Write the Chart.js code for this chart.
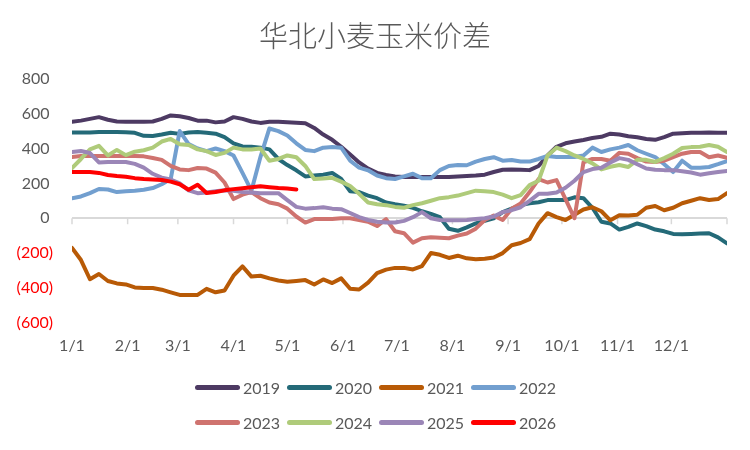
<!DOCTYPE html>
<html>
<head>
<meta charset="utf-8">
<script src="https://cdn.jsdelivr.net/npm/chart.js@4.4.1/dist/chart.umd.min.js"></script>
<style>
    html, body { margin: 0; padding: 0; background: #fff; }
    #wrap { position: relative; width: 750px; height: 450px; }
    #box { position: absolute; left: 0; top: 0; width: 750px; height: 376px; }
    #legend {
        position: absolute; left: 4px; top: 370px; width: 750px;
        display: grid; grid-template-columns: repeat(4, 92px); justify-content: center;
    }
    .item { display: flex; align-items: center; height: 35px; font: 16px Lato, sans-serif; color: #595959; }
    .swatch { width: 45px; height: 5px; border-radius: 3px; margin-right: 3px; }
</style>
</head>
<body>
<div id="wrap">
    <div id="box"><canvas id="spreadChart"></canvas></div>
    <div id="legend"></div>
</div>
<script>
// day of year for every sample (5-day steps)
var days = [0, 5, 10, 15, 20, 25, 30, 35, 40, 45, 50, 55, 60, 65, 70, 75, 80, 85, 90, 95,
    100, 105, 110, 115, 120, 125, 130, 135, 140, 145, 150, 155, 160, 165, 170, 175, 180, 185, 190, 195,
    200, 205, 210, 215, 220, 225, 230, 235, 240, 245, 250, 255, 260, 265, 270, 275, 280, 285, 290, 295,
    300, 305, 310, 315, 320, 325, 330, 335, 340, 345, 350, 355, 360, 365];

var monthDays = [0, 31, 59, 90, 120, 151, 181, 212, 243, 273, 304, 334];
var monthLabels = ["1/1", "2/1", "3/1", "4/1", "5/1", "6/1", "7/1", "8/1", "9/1", "10/1", "11/1", "12/1"];

var years = ["2019", "2020", "2021", "2022", "2023", "2024", "2025", "2026"];
var colors = ["#4d3a63", "#246a78", "#b85a06", "#729fcf", "#cf736f", "#afcb7a", "#9b86b7", "#ff0000"];

var s2019 = [553, 560, 570, 580, 565, 555, 553, 553, 553, 555,
    570, 590, 585, 575, 560, 560, 550, 555, 580, 570,
    555, 547, 553, 553, 550, 548, 545, 518, 480, 450,
    410, 365, 320, 285, 260, 248, 240, 236, 236, 236,
    236, 236, 236, 240, 242, 245, 250, 265, 278, 280,
    278, 276, 300, 360, 410, 430, 440, 449, 460, 467,
    485, 480, 470, 465, 455, 450, 465, 485, 488, 490,
    490, 492, 490, 490];

var s2020 = [492, 492, 492, 495, 495, 495, 493, 490, 473, 472,
    480, 490, 484, 492, 495, 490, 485, 465, 430, 412,
    410, 405, 395, 340, 305, 275, 240, 245, 250, 260,
    225, 155, 150, 130, 115, 90, 80, 72, 60, 40,
    25, 6, -60, -72, -52, -30, -15, 0, 35, 55,
    75, 86, 92, 104, 104, 104, 120, 115, 60, -20,
    -30, -65, -50, -30, -45, -65, -75, -90, -92, -90,
    -88, -86, -110, -144];

var s2021 = [-170, -240, -350, -320, -360, -374, -380, -397, -400, -400,
    -410, -425, -440, -440, -440, -405, -425, -415, -330, -276,
    -335, -330, -345, -357, -365, -360, -355, -380, -351, -372,
    -345, -405, -409, -370, -315, -295, -285, -285, -294, -275,
    -200, -210, -228, -215, -230, -235, -232, -225, -200, -155,
    -142, -120, -30, 29, 6, -10, 20, 50, 63, 40,
    -12, 17, 15, 20, 60, 70, 46, 60, 86, 100,
    115, 105, 110, 144];

var s2022 = [115, 125, 144, 168, 165, 150, 155, 158, 163, 173,
    195, 225, 500, 425, 400, 385, 400, 385, 360, 260,
    158, 351, 515, 500, 475, 430, 392, 385, 405, 409,
    405, 330, 290, 275, 245, 230, 225, 240, 255, 230,
    230, 276, 300, 305, 304, 325, 340, 350, 330, 334,
    325, 325, 340, 357, 351, 351, 351, 360, 405, 380,
    395, 405, 420, 390, 370, 351, 310, 265, 330, 290,
    290, 294, 310, 328];

var s2023 = [351, 357, 357, 357, 357, 357, 357, 357, 355, 346,
    335, 300, 280, 276, 288, 285, 262, 205, 110, 135,
    150, 115, 90, 80, 55, 10, -25, -5, -5, -5,
    0, 0, -10, -20, -45, -5, -75, -86, -140, -115,
    -109, -112, -115, -100, -88, -60, -10, 15, -10, 55,
    85, 150, 225, 205, 219, 110, 0, 320, 340, 340,
    330, 375, 370, 345, 325, 323, 330, 351, 370, 380,
    380, 350, 360, 346];

var s2024 = [288, 340, 395, 415, 360, 392, 362, 382, 390, 405,
    440, 455, 425, 420, 395, 385, 363, 375, 405, 395,
    395, 400, 330, 340, 360, 350, 300, 225, 228, 232,
    210, 185, 140, 90, 80, 75, 65, 60, 75, 86,
    100, 115, 121, 130, 144, 158, 155, 150, 135, 115,
    133, 190, 215, 360, 405, 385, 360, 340, 315, 280,
    295, 305, 294, 335, 335, 323, 345, 370, 403, 408,
    410, 420, 410, 380];

var s2025 = [380, 386, 374, 320, 323, 323, 323, 312, 290, 255,
    233, 222, 200, 160, 144, 148, 155, 160, 158, 150,
    148, 144, 144, 144, 104, 65, 55, 58, 63, 55,
    52, 30, 6, -10, -20, -25, -25, -15, 6, 35,
    0, -10, -12, -12, -10, -5, 0, 10, 35, 46,
    63, 100, 140, 140, 148, 175, 215, 265, 282, 290,
    320, 345, 335, 310, 285, 278, 276, 276, 270, 262,
    250, 258, 265, 271];

var s2026 = [265, 265, 265, 260, 248, 242, 238, 230, 225, 222,
    219, 210, 195, 163, 192, 145, 150, 160, 167, 172,
    178, 184, 178, 173, 170, 165];

var series = [s2019, s2020, s2021, s2022, s2023, s2024, s2025, s2026];

function toPoints(values) {
    return values.map(function (v, i) {
        return { x: days[i], y: v };
    });
}

var tickMarks = {
    id: "tickMarks",
    beforeDatasetsDraw: function (chart) {
        var xs = chart.scales.x, ys = chart.scales.y, c = chart.ctx;
        var y0 = ys.getPixelForValue(0);
        c.save();
        c.strokeStyle = "#d9d9d9";
        c.lineWidth = 1.5;
        monthDays.concat([365]).forEach(function (d) {
            var px = xs.getPixelForValue(d);
            c.beginPath();
            c.moveTo(px, y0);
            c.lineTo(px, y0 + 6);
            c.stroke();
        });
        c.restore();
    }
};

Chart.defaults.font.family = "Lato, 'Noto Sans', sans-serif";
Chart.defaults.font.size = 16;
Chart.defaults.color = "#595959";

var datasets = years.map(function (y, i) {
    return {
        label: y,
        data: toPoints(series[i]),
        borderColor: colors[i],
        backgroundColor: colors[i],
        borderWidth: 4,
        pointRadius: 0,
        tension: 0,
        fill: false,
        borderCapStyle: "round",
        borderJoinStyle: "round",
        order: years.length - i
    };
});

new Chart(document.getElementById("spreadChart"), {
    type: "line",
    data: { datasets: datasets },
    plugins: [tickMarks],
    options: {
        responsive: true,
        maintainAspectRatio: false,
        animation: false,
        layout: { padding: { left: 0, right: 0, top: 0, bottom: 8 } },
        plugins: {
            legend: { display: false },
            tooltip: { enabled: false },
            title: {
                display: true,
                text: "华北小麦玉米价差",
                color: "#595959",
                font: { family: "'Noto Sans CJK SC', sans-serif", size: 29, weight: 300 },
                padding: { top: 19, bottom: 25 }
            }
        },
        scales: {
            x: {
                type: "linear",
                min: 0,
                max: 365,
                afterBuildTicks: function (s) {
                    s.ticks = monthDays.map(function (d) { return { value: d }; });
                },
                ticks: {
                    autoSkip: false,
                    maxRotation: 0,
                    padding: 13,
                    callback: function (v) {
                        var i = monthDays.indexOf(v);
                        return i < 0 ? "" : monthLabels[i];
                    }
                },
                grid: { display: false, drawTicks: false },
                border: { display: false }
            },
            y: {
                min: -600,
                max: 800,
                afterFit: function (s) { s.width = 72; },
                ticks: {
                    stepSize: 200,
                    padding: 19,
                    color: function (ctx) {
                        return ctx.tick.value < 0 ? "#ff0000" : "#595959";
                    },
                    callback: function (v) {
                        return v < 0 ? "(" + Math.abs(v) + ")" : v + "\u2008";
                    }
                },
                grid: {
                    drawTicks: false,
                    lineWidth: 2,
                    color: function (ctx) {
                        return ctx.tick && ctx.tick.value === 0 ? "#d9d9d9" : "rgba(0,0,0,0)";
                    }
                },
                border: { display: false }
            },
            // empty right-hand axis, only reserves the right margin
            yRight: {
                position: "right",
                afterFit: function (s) { s.width = 23; },
                ticks: { display: false },
                grid: { display: false, drawTicks: false },
                border: { display: false }
            }
        }
    }
});

var legend = document.getElementById("legend");
years.forEach(function (y, i) {
    var item = document.createElement("div");
    item.className = "item";
    var sw = document.createElement("span");
    sw.className = "swatch";
    sw.style.background = colors[i];
    item.appendChild(sw);
    item.appendChild(document.createTextNode(y));
    legend.appendChild(item);
});
</script>
</body>
</html>
